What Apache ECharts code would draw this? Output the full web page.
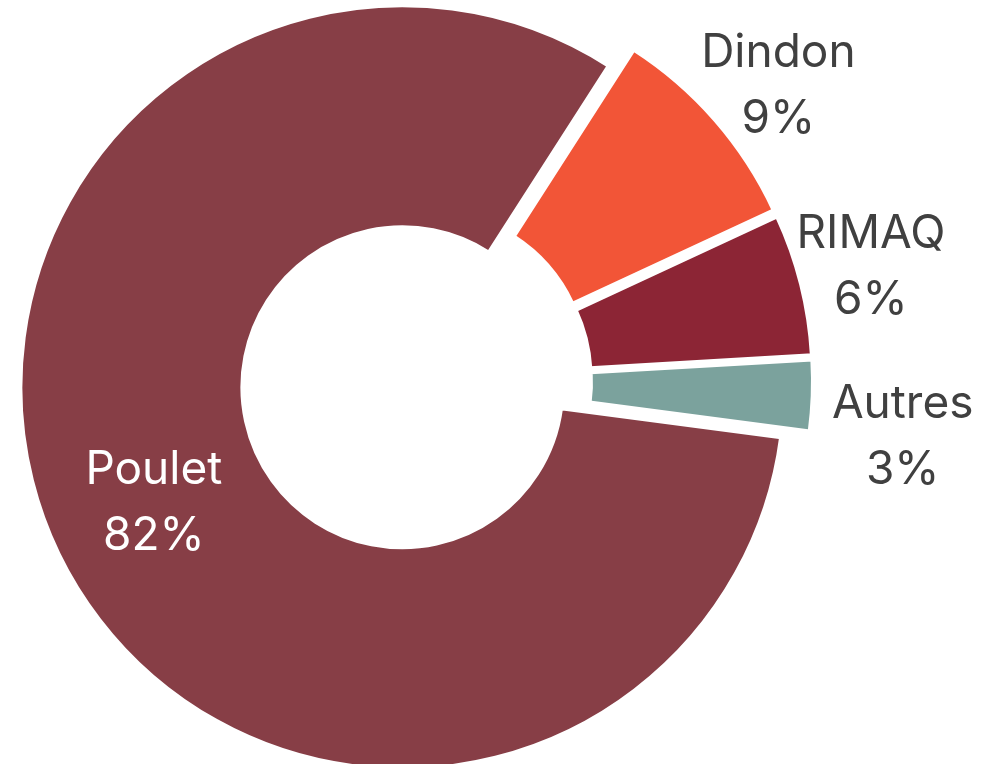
<!DOCTYPE html>
<html>
<head>
<meta charset="utf-8">
<script src="https://cdn.jsdelivr.net/npm/echarts@6/dist/echarts.min.js"></script>
<style>
  html, body { margin: 0; padding: 0; background: #fff; }
  #chart { width: 999px; height: 764px; }
</style>
</head>
<body>
<div id="chart"></div>
<script>
// share of production by species (%)
const categories = ["Poulet", "Dindon", "RIMAQ", "Autres"];
const shares = [82, 9, 6, 3];
const colors = ["#873E46", "#F25537", "#8C2535", "#7BA29D"];

// label look per slice (Poulet sits inside the ring, the others outside)
const labelColors = ["#ffffff", "#404040", "#404040", "#404040"];
const labelLengths = [0, 52, 70, 50];
const labelNudge = [[0, 0], [19, 0], [-3, 0], [35, 40]];

const chart = echarts.init(document.getElementById("chart"));

const pieData = categories.map((name, i) => ({
  name: name,
  value: shares[i],
  selected: true,
  itemStyle: { color: colors[i] },
  label: {
    position: i === 0 ? "inside" : "outside",
    color: labelColors[i]
  },
  labelLine: { show: false, length: labelLengths[i], length2: 0 }
}));

const options = {
  animation: false,
  series: [
    {
      type: "pie",
      center: [416, 381],
      radius: [160, 382],
      startAngle: -7.5,
      selectedMode: "multiple",
      selectedOffset: 15,
      avoidLabelOverlap: false,
      itemStyle: { borderColor: "#ffffff", borderWidth: 4 },
      select: { itemStyle: { borderColor: "#ffffff", borderWidth: 4 } },
      label: {
        formatter: "{b}\n{d}%",
        fontFamily: "Inter",
        fontSize: 46,
        lineHeight: 66
      },
      labelLayout: function (params) {
        const n = labelNudge[params.dataIndex];
        return { align: "center", verticalAlign: "middle", dx: n[0], dy: n[1] };
      },
      data: pieData
    }
  ]
};

chart.setOption(options);

window.addEventListener("resize", () => {
  chart.resize();
});
</script>
</body>
</html>
